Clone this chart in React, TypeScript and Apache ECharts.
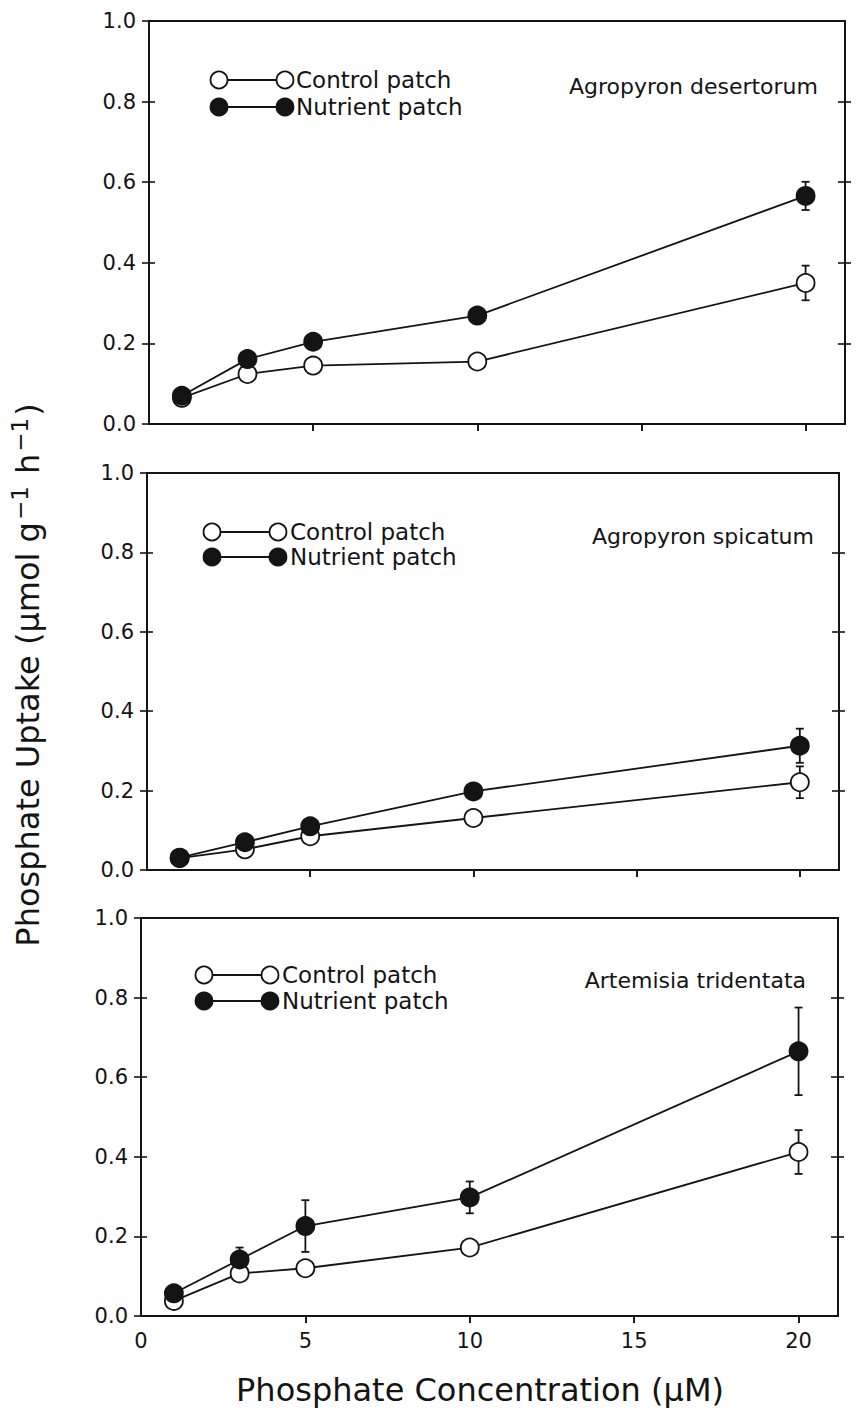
import React, { useEffect, useRef } from "react";
import * as echarts from "echarts";

// ---- data ----
const concentration = [1, 3, 5, 10, 20];
const panelTitles = ["Agropyron desertorum", "Agropyron spicatum", "Artemisia tridentata"];
const seriesNames = ["Control patch", "Nutrient patch"];

const desertorumControl = [0.065, 0.124, 0.145, 0.155, 0.35];
const desertorumControlErr = [0, 0, 0, 0, 0.043];
const desertorumNutrient = [0.07, 0.161, 0.204, 0.269, 0.566];
const desertorumNutrientErr = [0, 0, 0, 0, 0.035];

const spicatumControl = [0.03, 0.052, 0.085, 0.131, 0.221];
const spicatumControlErr = [0, 0, 0, 0, 0.04];
const spicatumNutrient = [0.031, 0.07, 0.11, 0.198, 0.313];
const spicatumNutrientErr = [0, 0, 0, 0, 0.043];

const tridentataControl = [0.038, 0.107, 0.12, 0.172, 0.412];
const tridentataControlErr = [0, 0, 0, 0, 0.055];
const tridentataNutrient = [0.057, 0.142, 0.226, 0.298, 0.665];
const tridentataNutrientErr = [0, 0.03, 0.065, 0.04, 0.11];

const xTickValues = [0, 5, 10, 15, 20];
const yTickValues = [0, 0.2, 0.4, 0.6, 0.8, 1.0];

const panels = [
  { control: desertorumControl, controlErr: desertorumControlErr, nutrient: desertorumNutrient, nutrientErr: desertorumNutrientErr },
  { control: spicatumControl, controlErr: spicatumControlErr, nutrient: spicatumNutrient, nutrientErr: spicatumNutrientErr },
  { control: tridentataControl, controlErr: tridentataControlErr, nutrient: tridentataNutrient, nutrientErr: tridentataNutrientErr },
];

// ---- layout / style ----
const FONT = "DejaVu Sans";
const INK = "#141414";
const X_MAX = 21.2;
const gridLayout = [
  { left: 149, top: 21, width: 696, height: 403 },
  { left: 147, top: 473, width: 692, height: 397 },
  { left: 141, top: 918, width: 697, height: 398 },
];
const legendLayout = [
  { x1: 219, x2: 285, tx: 296, y1: 80, y2: 107, sx: 818, sy: 86 },
  { x1: 212, x2: 278, tx: 290, y1: 532, y2: 557, sx: 814, sy: 536 },
  { x1: 204, x2: 270, tx: 282, y1: 975, y2: 1001, sx: 806, sy: 980 },
];

function errData(vals: number[], errs: number[]) {
  const out: number[][] = [];
  vals.forEach((v, i) => {
    if (errs[i] > 0) out.push([concentration[i], v - errs[i], v + errs[i]]);
  });
  return out;
}

function buildOption() {
  const grid: any[] = [];
  const xAxis: any[] = [];
  const yAxis: any[] = [];
  const series: any[] = [];
  const graphic: any[] = [];

  panels.forEach((p, i) => {
    const g = gridLayout[i];
    grid.push({
      left: g.left, top: g.top, width: g.width, height: g.height,
      show: true, borderColor: INK, borderWidth: 1.8, backgroundColor: "transparent",
    });
    const xBase = { gridIndex: i, type: "value", min: 0, max: X_MAX, interval: 5, splitLine: { show: false } };
    xAxis.push({
      ...xBase,
      axisLine: { show: true, lineStyle: { color: INK, width: 1.8 } },
      axisTick: { show: true, inside: false, length: 7, lineStyle: { color: INK, width: 1.6 }, customValues: [5, 10, 15, 20] },
      axisLabel: {
        show: i === 2, customValues: xTickValues, color: INK, fontFamily: FONT, fontSize: 21, margin: 14,
        formatter: (v: number) => String(v),
      },
    });
    xAxis.push({
      ...xBase,
      axisLine: { show: false },
      axisTick: { show: true, inside: true, length: 7, lineStyle: { color: INK, width: 1.6 }, customValues: [5, 10, 15, 20] },
      axisLabel: { show: false },
    });
    const yBase = { gridIndex: i, type: "value", min: 0, max: 1, interval: 0.2, splitLine: { show: false } };
    yAxis.push({
      ...yBase, position: "left",
      axisLine: { show: true, lineStyle: { color: INK, width: 1.8 } },
      axisTick: { show: true, inside: false, length: 7, lineStyle: { color: INK, width: 1.6 } },
      axisLabel: {
        show: true, color: INK, fontFamily: FONT, fontSize: 21, margin: 13,
        customValues: yTickValues, formatter: (v: number) => v.toFixed(1),
      },
    });
    yAxis.push({
      ...yBase, position: "left",
      axisLine: { show: false },
      axisTick: { show: true, inside: true, length: 6, lineStyle: { color: INK, width: 1.6 }, customValues: [0.2, 0.4, 0.6, 0.8] },
      axisLabel: { show: false },
    });
    yAxis.push({
      ...yBase, position: "right",
      axisLine: { show: true, lineStyle: { color: INK, width: 1.8 } },
      axisTick: { show: true, inside: false, length: 6, lineStyle: { color: INK, width: 1.6 }, customValues: [0.2, 0.4, 0.6, 0.8] },
      axisLabel: { show: false },
    });
    yAxis.push({
      ...yBase, position: "right",
      axisLine: { show: false },
      axisTick: { show: true, inside: true, length: 7, lineStyle: { color: INK, width: 1.6 }, customValues: [0.2, 0.4, 0.6, 0.8] },
      axisLabel: { show: false },
    });

    const xi = 2 * i;
    const yi = 4 * i;
    const errRender = (params: any, api: any) => {
      const x = api.value(0);
      const top = api.coord([x, api.value(2)]);
      const bot = api.coord([x, api.value(1)]);
      const w = 4;
      const st = { stroke: INK, lineWidth: 1.8 };
      return {
        type: "group",
        children: [
          { type: "line", shape: { x1: top[0], y1: top[1], x2: bot[0], y2: bot[1] }, style: st },
          { type: "line", shape: { x1: top[0] - w, y1: top[1], x2: top[0] + w, y2: top[1] }, style: st },
          { type: "line", shape: { x1: bot[0] - w, y1: bot[1], x2: bot[0] + w, y2: bot[1] }, style: st },
        ],
      };
    };
    series.push({
      type: "custom", xAxisIndex: xi, yAxisIndex: yi, z: 1,
      data: errData(p.control, p.controlErr), renderItem: errRender,
    });
    series.push({
      type: "custom", xAxisIndex: xi, yAxisIndex: yi, z: 1,
      data: errData(p.nutrient, p.nutrientErr), renderItem: errRender,
    });
    series.push({
      name: seriesNames[0], type: "line", xAxisIndex: xi, yAxisIndex: yi, z: 3,
      data: concentration.map((c, k) => [c, p.control[k]]),
      symbol: "circle", symbolSize: 18,
      lineStyle: { color: INK, width: 1.8 },
      itemStyle: { color: "#ffffff", borderColor: INK, borderWidth: 1.8 },
    });
    series.push({
      name: seriesNames[1], type: "line", xAxisIndex: xi, yAxisIndex: yi, z: 4,
      data: concentration.map((c, k) => [c, p.nutrient[k]]),
      symbol: "circle", symbolSize: 18,
      lineStyle: { color: INK, width: 1.8 },
      itemStyle: { color: INK, borderColor: INK, borderWidth: 1.8 },
    });

    // legend drawn manually (marker — line — marker  label)
    const L = legendLayout[i];
    const r = 8.5;
    [
      { y: L.y1, fill: "#ffffff", text: seriesNames[0] },
      { y: L.y2, fill: INK, text: seriesNames[1] },
    ].forEach((it) => {
      graphic.push({ type: "line", shape: { x1: L.x1 + r, y1: it.y, x2: L.x2 - r, y2: it.y }, style: { stroke: INK, lineWidth: 1.8 } });
      graphic.push({ type: "circle", shape: { cx: L.x1, cy: it.y, r }, style: { fill: it.fill, stroke: INK, lineWidth: 1.8 } });
      graphic.push({ type: "circle", shape: { cx: L.x2, cy: it.y, r }, style: { fill: it.fill, stroke: INK, lineWidth: 1.8 } });
      graphic.push({
        type: "text", x: L.tx, y: it.y,
        style: { text: it.text, fill: INK, fontFamily: FONT, fontSize: 23, verticalAlign: "middle", align: "left" },
      });
    });
    graphic.push({
      type: "text", x: L.sx, y: L.sy,
      style: { text: panelTitles[i], fill: INK, fontFamily: FONT, fontSize: 22, verticalAlign: "middle", align: "right" },
    });
  });

  graphic.push({
    type: "text", x: 480, y: 1390,
    style: { text: "Phosphate Concentration (μM)", fill: INK, fontFamily: FONT, fontSize: 32, align: "center", verticalAlign: "middle" },
  });
  graphic.push({
    type: "text", x: 28, y: 675, rotation: Math.PI / 2,
    style: {
      text: "{a|Phosphate Uptake (μmol g}{s|−1}{a| h}{s|−1}{a|)}",
      align: "center", verticalAlign: "middle",
      rich: {
        a: { fontFamily: FONT, fontSize: 32, fill: INK, color: INK },
        s: { fontFamily: FONT, fontSize: 23, fill: INK, color: INK, padding: [0, 2, 16, 2] },
      },
    },
  });

  return {
    animation: false,
    backgroundColor: "#ffffff",
    grid, xAxis, yAxis, series, graphic,
  };
}

export default function App() {
  const ref = useRef<HTMLDivElement>(null);
  useEffect(() => {
    if (!ref.current) return;
    const chart = echarts.init(ref.current, undefined, { renderer: "svg" });
    chart.setOption(buildOption() as any);
    return () => chart.dispose();
  }, []);
  return (
    <div
      ref={ref}
      style={{ position: "absolute", left: 0, top: 0, width: 861, height: 1413, background: "#fff" }}
    />
  );
}
